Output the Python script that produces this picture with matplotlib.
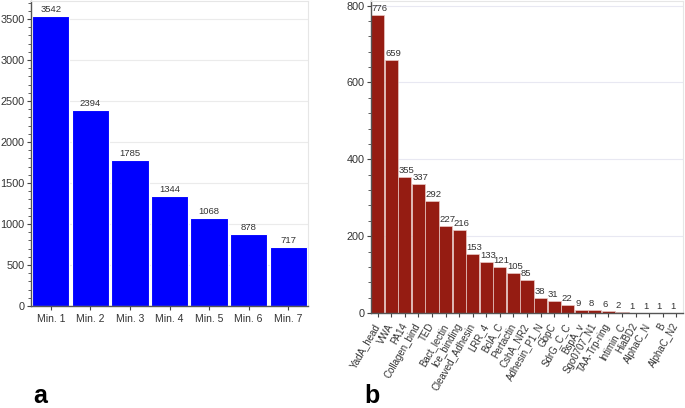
import matplotlib
matplotlib.use("Agg")
import matplotlib.pyplot as plt
from matplotlib.ticker import MultipleLocator

plt.rcParams['font.family'] = ['Liberation Sans', 'DejaVu Sans']

minima = ["Min. 1", "Min. 2", "Min. 3", "Min. 4", "Min. 5", "Min. 6", "Min. 7"]
minima_counts = [3542, 2394, 1785, 1344, 1068, 878, 717]

domains = ["YadA_head", "VWA", "PA14", "Collagen_bind", "TED", "Bact_lectin",
           "Ice_binding", "Cleaved_Adhesin", "LRR_4", "BclA_C", "Pertactin",
           "CshA_NR2", "Adhesin_P1_N", "GbpC", "SdrG_C_C", "BspA_v",
           "Sgo0707_N1", "TAA-Trp-ring", "Intimin_C", "HiaBD2", "AlphaC_N",
           "B", "AlphaC_N2"]
domain_counts = [776, 659, 355, 337, 292, 227, 216, 153, 133, 121, 105, 85,
                 38, 31, 22, 9, 8, 6, 2, 1, 1, 1, 1]

W, H = 685, 408
fig = plt.figure(figsize=(W / 100, H / 100), dpi=100)

def style(ax, grid_color):
    for s in ("top", "right"):
        ax.spines[s].set_color("#e6e6e6")
        ax.spines[s].set_linewidth(0.8)
    for s in ("left", "bottom"):
        ax.spines[s].set_color("#555555")
        ax.spines[s].set_linewidth(1.0)
    ax.yaxis.grid(True, color=grid_color, linewidth=0.8)
    ax.set_axisbelow(True)
    ax.tick_params(axis="both", colors="#444444", labelcolor="#333333",
                   labelsize=7.8, length=3, width=0.8, pad=1.5)
    ax.tick_params(axis="y", which="minor", length=2, width=0.6, colors="#444444")

# Panel a
ax1 = fig.add_axes([31 / W, 1 - 306 / H, 277 / W, 305 / H])
x1 = range(len(minima))
ax1.bar(x1, minima_counts, width=0.94, color="#0000ff", edgecolor="white", linewidth=0.8)
ax1.set_xlim(-0.5, len(minima) - 0.5)
ax1.set_ylim(0, 3720)
ax1.set_xticks(list(x1))
ax1.set_xticklabels(minima)
ax1.yaxis.set_major_locator(MultipleLocator(500))
ax1.yaxis.set_minor_locator(MultipleLocator(100))
style(ax1, "#ebebeb")
ax1.tick_params(axis="x", labelsize=7.5, pad=2.5)
for i, v in enumerate(minima_counts):
    ax1.text(i, v + 25, str(v), ha="center", va="bottom", fontsize=6.8, color="#333333")

# Panel b
ax2 = fig.add_axes([371 / W, 1 - 313 / H, 312 / W, 312 / H])
x2 = range(len(domains))
ax2.bar(x2, domain_counts, width=0.97, color="#951c12", edgecolor="#e9c9c5", linewidth=0.5)
ax2.set_xlim(-0.5, len(domains) - 0.5)
ax2.set_ylim(0, 812)
ax2.set_xticks(list(x2))
ax2.yaxis.set_major_locator(MultipleLocator(200))
ax2.yaxis.set_minor_locator(MultipleLocator(40))
style(ax2, "#e8e8f2")
ax2.set_xticklabels(domains, rotation=60, ha="right", va="center",
                    rotation_mode="anchor", fontsize=7)
ax2.tick_params(axis="x", pad=5)
for i, v in enumerate(domain_counts):
    ax2.text(i - 0.45, v + 5, str(v), ha="left", va="bottom", fontsize=6.8, color="#333333")

fig.text(33 / W, 5 / H, "a", fontsize=18, fontweight="bold", ha="left", va="baseline")
fig.text(364 / W, 5 / H, "b", fontsize=18, fontweight="bold", ha="left", va="baseline")

fig.savefig("out.png", dpi=100)
